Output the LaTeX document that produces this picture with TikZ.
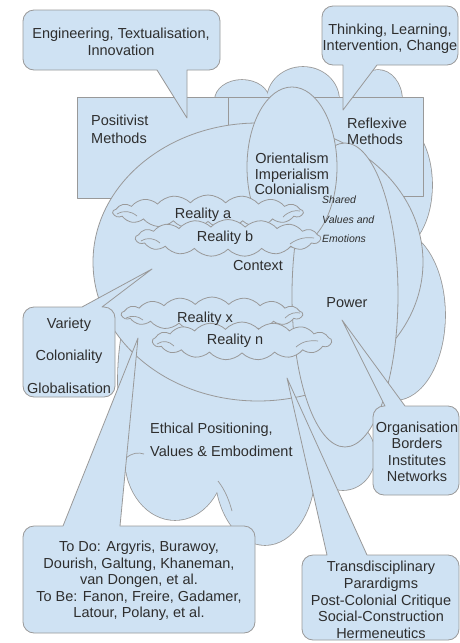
\documentclass[tikz,border=0pt]{standalone}
\usepackage{fontspec}
\setmainfont{Liberation Sans}
\usetikzlibrary{shapes.symbols}
\definecolor{fillc}{HTML}{CFE2F3}
\definecolor{linec}{HTML}{999999}
\definecolor{textc}{HTML}{2E2E2E}
% callout with pointer on the bottom edge: x1 y1 x2 y2 pa pb tx ty
\newcommand\cbotptr[8]{\draw[blob] (#1+11,#2) -- (#3-11,#2) arc[start angle=-90,end angle=0,radius=11] -- (#3,#4-11) arc[start angle=0,end angle=90,radius=11] -- (#6,#4) -- (#7,#8) -- (#5,#4) -- (#1+11,#4) arc[start angle=90,end angle=180,radius=11] -- (#1,#2+11) arc[start angle=180,end angle=270,radius=11] -- cycle;}
% callout with pointer on the top edge: x1 y1 x2 y2 pa pb tx ty
\newcommand\ctopptr[8]{\draw[blob] (#1+11,#2) -- (#5,#2) -- (#7,#8) -- (#6,#2) -- (#3-11,#2) arc[start angle=-90,end angle=0,radius=11] -- (#3,#4-11) arc[start angle=0,end angle=90,radius=11] -- (#1+11,#4) arc[start angle=90,end angle=180,radius=11] -- (#1,#2+11) arc[start angle=180,end angle=270,radius=11] -- cycle;}
\tikzset{
  blob/.style={fill=fillc, draw=linec, line width=0.8pt, line join=round},
  ustroke/.style={draw=linec, line width=1.6pt},
  hookline/.style={draw=linec, line width=0.7pt},
  txt/.style={font=\fontsize{14.5}{16.5}\selectfont, text=textc, inner sep=0pt, align=center},
  cloudbox/.style={cloud, cloud puffs=17, cloud puff arc=95, cloud ignores aspect, fill=fillc, draw=linec, line width=0.8pt, inner sep=0pt},
}
\begin{document}
\begin{tikzpicture}[x=1pt,y=-1pt]
\useasboundingbox (0,0) rectangle (460,643);
\fill[white] (0,0) rectangle (460,643);
% background cloud (union of lobes)
\foreach \cx/\cy/\rx/\ry in {242/100/27/20, 303/100/36/33, 378/100/24/30, 395/185/37/65, 395/315/50/85, 343/455/32/35, 265/470/50/75, 175/458/50/62, 153/380/35/100, 243/300/125/170}
  \draw[ustroke] (\cx,\cy) ellipse[x radius=\rx, y radius=\ry];
\foreach \cx/\cy/\rx/\ry in {242/100/27/20, 303/100/36/33, 378/100/24/30, 395/185/37/65, 395/315/50/85, 343/455/32/35, 265/470/50/75, 175/458/50/62, 153/380/35/100, 243/300/125/170}
  \fill[fillc] (\cx,\cy) ellipse[x radius=\rx, y radius=\ry];
\fill[fillc] (220,100) -- (400,100) -- (415,200) -- (420,300) -- (400,390) -- (370,420) -- (340,440) -- (270,480) -- (190,470) -- (135,440) -- (125,320) -- (140,200) -- (180,120) -- cycle;
\draw[hookline] (126,458) .. controls (132,453) and (138,452) .. (144,454);
\draw[hookline] (218,481) .. controls (225,490) and (229,500) .. (232,511);
% method rectangles
\draw[blob] (77,97) rectangle (228,198);
\draw[blob] (228,97) rectangle (423,196);
% context, power, orientalism
\draw[blob] (258,262) ellipse[x radius=165, y radius=139];
\draw[blob] (345,295) ellipse[x radius=53, y radius=152];
\draw[blob] (292,167) ellipse[x radius=45, y radius=80];
% reality clouds
\node[cloudbox, minimum width=190pt, minimum height=34pt] (ca) at (208,212) {};
\draw[hookline] (117,214) .. controls (124,210) and (131,211) .. (137,216);
\draw[hookline] (283,217) .. controls (289,211) and (295,210) .. (300,211);
\node[cloudbox, minimum width=185pt, minimum height=37pt] (cb) at (228,238) {};
\draw[hookline] (141,241) .. controls (148,237) and (154,238) .. (160,243);
\draw[hookline] (290,244) .. controls (298,238) and (306,237) .. (314,238);
\node[cloudbox, minimum width=181pt, minimum height=34pt] (cx) at (212,314) {};
\draw[hookline] (126,318) .. controls (132,315) and (138,316) .. (143,320);
\draw[hookline] (285,318) .. controls (290,313) and (295,312) .. (300,313);
\node[cloudbox, minimum width=179pt, minimum height=38pt] (cn) at (242,341) {};
\draw[hookline] (157,344) .. controls (163,340) and (169,341) .. (174,346);
\draw[hookline] (296,347) .. controls (303,341) and (310,340) .. (318,341);
% callouts
\cbotptr{23}{10}{220}{70}{157}{187}{187}{118}
\cbotptr{322}{6}{458}{65}{343}{377}{343}{110}
\ctopptr{23}{307}{115}{397}{82}{102}{152}{269}
\ctopptr{23}{526}{255}{633}{63}{120}{138}{338}
\ctopptr{373}{406}{459}{495}{385}{405}{342}{320}
\ctopptr{302}{555}{459}{640}{327}{367}{287}{378}
% texts
\node[txt] (teng) at (121,42) {Engineering, Textualisation,\\Innovation};
\node[txt] (tthink) at (390,38.5) {Thinking, Learning,\\Intervention, Change};
\node[txt, anchor=west, align=left, font=\fontsize{14.5}{18}\selectfont] (tpos) at (91,129) {Positivist\\Methods};
\node[txt, anchor=west, align=left, font=\fontsize{14.5}{16}\selectfont] (tref) at (347,131) {Reflexive\\Methods};
\node[txt, font=\fontsize{14.5}{15.5}\selectfont] (tori) at (292,174) {Orientalism\\Imperialism\\Colonialism};
\node[txt, anchor=west, align=left, font=\fontsize{10.5}{19.5}\selectfont\itshape] (tshared) at (322,219.5) {Shared\\Values and\\Emotions};
\node[txt] (ta) at (203,214.5) {Reality a};
\node[txt] (tb) at (225,238) {Reality b};
\node[txt] (tctx) at (258,266) {Context};
\node[txt] (tpow) at (347,303) {Power};
\node[txt] (tx) at (205,318.5) {Reality x};
\node[txt] (tn) at (235,341) {Reality n};
\node[txt, font=\fontsize{14.5}{32.5}\selectfont] (tvar) at (69,355.5) {Variety\\Coloniality\\Globalisation};
\node[txt, anchor=west, align=left, font=\fontsize{14.5}{23}\selectfont] (teth) at (150,440) {Ethical Positioning,\\Values \& Embodiment};
\node[txt] (torg) at (417,452) {Organisation\\Borders\\Institutes\\Networks};
\node[txt] (todo) at (139,581) {To Do: Argyris, Burawoy,\\Dourish, Galtung, Khaneman,\\van Dongen, et al.\\To Be: Fanon, Freire, Gadamer,\\Latour, Polany, et al.};
\node[txt, font=\fontsize{14.5}{16.75}\selectfont] (ttrans) at (381,600) {Transdisciplinary\\Parardigms\\Post-Colonial Critique\\Social-Construction\\Hermeneutics};
\end{tikzpicture}
\end{document}
